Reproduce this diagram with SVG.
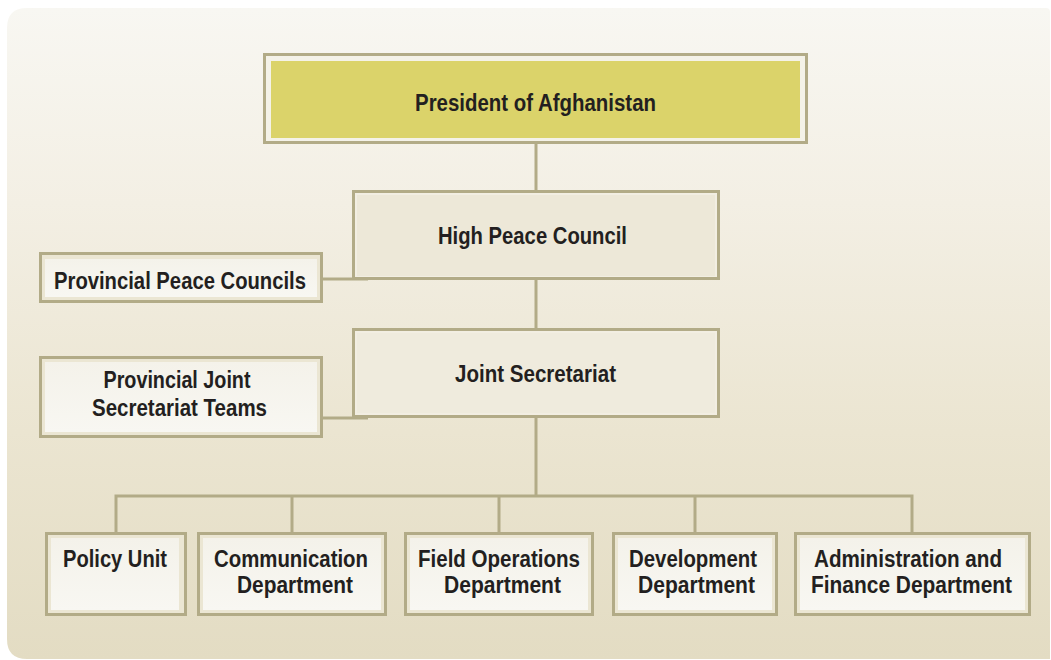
<svg xmlns="http://www.w3.org/2000/svg" width="1051" height="660" viewBox="0 0 1051 660">
<defs>
<linearGradient id="bg" x1="0" y1="0" x2="0" y2="1">
<stop offset="0" stop-color="#f8f7f2"/>
<stop offset="0.3" stop-color="#f3efe4"/>
<stop offset="0.65" stop-color="#ebe5d1"/>
<stop offset="1" stop-color="#e3dcc3"/>
</linearGradient>
<linearGradient id="inner" x1="0" y1="0" x2="0" y2="1">
<stop offset="0" stop-color="#f4f2ea"/>
<stop offset="1" stop-color="#f8f7f2"/>
</linearGradient>
<style>
.frame{stroke:#b2ab87;stroke-width:3}
.band{fill:#ebe6d3}
.in{fill:url(#inner)}
.mid{fill:#ede8d8}
.conn{stroke:#b2ab87;stroke-width:3;fill:none}
.t{font-family:"Liberation Sans Narrow","Liberation Sans",Arial,sans-serif;font-weight:bold;font-size:23px;fill:#231f20;text-anchor:middle}
</style>
</defs>
<path d="M27,8 H1046 Q1050,8 1050,12 V659 H27 Q7,659 7,639 V28 Q7,8 27,8 Z" fill="url(#bg)"/>
<g id="connectors">
<line class="conn" x1="536" y1="144" x2="536" y2="191"/>
<line class="conn" x1="536" y1="280" x2="536" y2="328"/>
<line class="conn" x1="322" y1="279" x2="368" y2="279"/>
<line class="conn" x1="322" y1="418" x2="368" y2="418"/>
<line class="conn" x1="536" y1="417" x2="536" y2="496"/>
<polyline class="conn" points="116,532 116,496 912,496 912,532"/>
<line class="conn" x1="292" y1="496" x2="292" y2="532"/>
<line class="conn" x1="499" y1="496" x2="499" y2="532"/>
<line class="conn" x1="695" y1="496" x2="695" y2="532"/>
</g>
<g id="president">
<rect class="frame" x="264.5" y="54.5" width="542" height="88" fill="#f4f2e8"/>
<rect x="271" y="61" width="529" height="77" fill="#dbd36a"/>
<text class="t" x="535.5" y="111" textLength="241" lengthAdjust="spacingAndGlyphs">President of Afghanistan</text>
</g>
<g id="high-peace-council">
<rect class="frame" x="353.5" y="191.5" width="365" height="87" fill="#f2eee2"/>
<rect class="mid" x="357" y="195" width="358" height="81"/>
<text class="t" x="532.5" y="244" textLength="189" lengthAdjust="spacingAndGlyphs">High Peace Council</text>
</g>
<g id="provincial-peace-councils">
<rect class="frame band" x="40.5" y="253.5" width="281" height="48"/>
<rect class="in" x="45" y="259" width="272" height="38"/>
<text class="t" x="180" y="289" textLength="252" lengthAdjust="spacingAndGlyphs">Provincial Peace Councils</text>
</g>
<g id="joint-secretariat">
<rect class="frame" x="353.5" y="329.5" width="365" height="87" fill="#f2eee2"/>
<rect x="357" y="333" width="358" height="80" fill="#efebdd"/>
<text class="t" x="535.5" y="382" textLength="161" lengthAdjust="spacingAndGlyphs">Joint Secretariat</text>
</g>
<g id="provincial-joint-secretariat-teams">
<rect class="frame band" x="40.5" y="357.5" width="281" height="79"/>
<rect class="in" x="45" y="362" width="272" height="70"/>
<text class="t" x="177" y="388" textLength="147" lengthAdjust="spacingAndGlyphs">Provincial Joint</text>
<text class="t" x="179.5" y="416" textLength="175" lengthAdjust="spacingAndGlyphs">Secretariat Teams</text>
</g>
<g id="policy-unit">
<rect class="frame band" x="46.5" y="533.5" width="139" height="81"/>
<rect class="in" x="51" y="538" width="128" height="72"/>
<text class="t" x="115" y="567" textLength="104" lengthAdjust="spacingAndGlyphs">Policy Unit</text>
</g>
<g id="communication-department">
<rect class="frame band" x="198.5" y="533.5" width="187" height="81"/>
<rect class="in" x="203" y="538" width="178" height="72"/>
<text class="t" x="291" y="567" textLength="154" lengthAdjust="spacingAndGlyphs">Communication</text>
<text class="t" x="295" y="593" textLength="116" lengthAdjust="spacingAndGlyphs">Department</text>
</g>
<g id="field-operations-department">
<rect class="frame band" x="405.5" y="533.5" width="187" height="81"/>
<rect class="in" x="410" y="538" width="178" height="72"/>
<text class="t" x="499" y="567" textLength="162" lengthAdjust="spacingAndGlyphs">Field Operations</text>
<text class="t" x="502.5" y="593" textLength="117" lengthAdjust="spacingAndGlyphs">Department</text>
</g>
<g id="development-department">
<rect class="frame band" x="613.5" y="533.5" width="163" height="81"/>
<rect class="in" x="618" y="538" width="154" height="72"/>
<text class="t" x="693" y="567" textLength="128" lengthAdjust="spacingAndGlyphs">Development</text>
<text class="t" x="696.5" y="593" textLength="117" lengthAdjust="spacingAndGlyphs">Department</text>
</g>
<g id="administration-and-finance-department">
<rect class="frame band" x="795.5" y="533.5" width="234" height="81"/>
<rect class="in" x="800" y="538" width="225" height="72"/>
<text class="t" x="908" y="567" textLength="188" lengthAdjust="spacingAndGlyphs">Administration and</text>
<text class="t" x="911.5" y="593" textLength="201" lengthAdjust="spacingAndGlyphs">Finance Department</text>
</g>
</svg>
